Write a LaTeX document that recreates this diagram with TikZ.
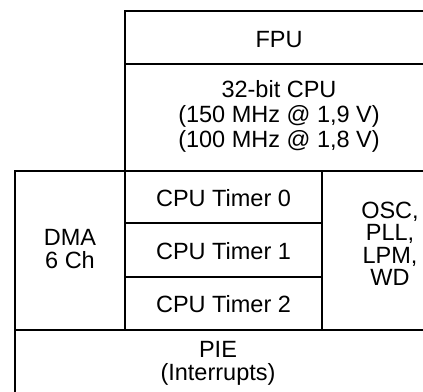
\documentclass[tikz,border=0pt]{standalone}
\usepackage{fontspec}
\setmainfont{Liberation Sans}
\begin{document}
\begin{tikzpicture}[x=1bp,y=-1bp,
  blk/.style={draw, line width=1.8bp, rectangle, inner sep=0pt, outer sep=0pt, anchor=north west},
  txt/.style={align=center, font=\fontsize{23.5bp}{23.5bp}\selectfont, inner sep=0pt}]
\useasboundingbox (0,0) rectangle (423,392);
% boxes
\node[blk, minimum width=308bp, minimum height=53bp]  (fpu) at (125,11)  {};
\node[blk, minimum width=308bp, minimum height=107bp] (cpu) at (125,64)  {};
\node[blk, minimum width=110bp, minimum height=159bp] (dma) at (15,171)  {};
\node[blk, minimum width=197bp, minimum height=52bp]  (t0)  at (125,171) {};
\node[blk, minimum width=197bp, minimum height=54bp]  (t1)  at (125,223) {};
\node[blk, minimum width=197bp, minimum height=53bp]  (t2)  at (125,277) {};
\node[blk, minimum width=130bp, minimum height=159bp] (osc) at (322,171) {};
\node[blk, minimum width=430bp, minimum height=80bp]  (pie) at (15,330)  {};
% texts
\node[txt] (fputxt) at (279,39.5) {FPU};
\node[txt, font=\fontsize{23.5bp}{25bp}\selectfont] (cputxt) at (279,116) {32-bit CPU\\(150 MHz @ 1,9 V)\\(100 MHz @ 1,8 V)};
\node[txt] (dmatxt) at (70,249) {DMA\\6 Ch};
\node[txt] (t0txt) at (223.5,198) {CPU Timer 0};
\node[txt] (t1txt) at (223.5,251) {CPU Timer 1};
\node[txt] (t2txt) at (223.5,304) {CPU Timer 2};
\node[txt, font=\fontsize{23.5bp}{22.5bp}\selectfont] (osctxt) at (390,244) {OSC,\\PLL,\\LPM,\\WD};
\node[txt, font=\fontsize{23.5bp}{23bp}\selectfont] (pietxt) at (218,363) {PIE\\(Interrupts)};
\end{tikzpicture}
\end{document}
